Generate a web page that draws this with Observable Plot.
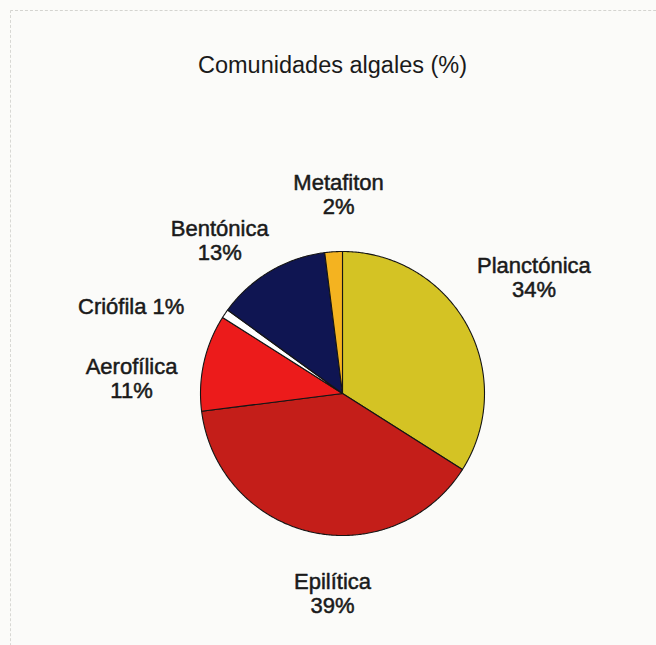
<!DOCTYPE html>
<html>
<head>
<meta charset="utf-8">
<script src="https://cdn.jsdelivr.net/npm/d3@7"></script>
<script src="https://cdn.jsdelivr.net/npm/@observablehq/plot@0.6"></script>
<style>
  html, body { margin: 0; padding: 0; background: #fbfbf9; }
  #wrap { position: relative; width: 656px; height: 645px; background: #fbfbf9; overflow: hidden;
          font-family: "Liberation Sans", Arial, Helvetica, sans-serif; }
  #frame { position: absolute; left: 10px; top: 10px; width: 700px; height: 700px;
           border-top: 1px dashed #d4d4d0; border-left: 1px dashed #d8d8d4; }
  #title { position: relative; height: 100px; box-sizing: border-box; padding-top: 52px; padding-left: 9px;
           text-align: center; font-size: 23.5px; line-height: 26px; color: #1a1a1a; }
  #chart svg { display: block; }
</style>
</head>
<body>
<div id="wrap">
  <div id="frame"></div>
  <div id="title">Comunidades algales (%)</div>
  <div id="chart"></div>
</div>
<script>
// ---- data ----
const categories = ["Planctónica", "Epilítica", "Aerofílica", "Criófila", "Bentónica", "Metafiton"];
const percents   = [34, 39, 11, 1, 13, 2];
const colors     = ["#d4c324", "#c41e19", "#ec1b1b", "#ffffff", "#0f1552", "#f4b320"];

// label layout: pixel nudges from the polar anchor (layout only)
const labelNudge = [[11, -17], [35, -1], [-10, 30], [-41, 28], [-18, 24], [9, 6]];

// ---- geometry ----
const W = 656, H = 545, R = 142, CX = 342, CY = 293;
const pie = d3.pie().sort(null).value(d => d.value)(categories.map((name, i) => ({name, value: percents[i]})));

const slicePts = [];
pie.forEach(s => {
  const name = s.data.name;
  slicePts.push({name, x: 0, y: 0});
  const steps = Math.max(2, Math.ceil((s.endAngle - s.startAngle) / (Math.PI / 360)));
  for (let k = 0; k <= steps; k++) {
    const a = s.startAngle + (s.endAngle - s.startAngle) * k / steps;
    slicePts.push({name, x: Math.sin(a), y: Math.cos(a)});
  }
});

const labelR = 1.45;
const labels = pie.map((s, i) => {
  const a = (s.startAngle + s.endAngle) / 2;
  const name = s.data.name;
  const txt = name === "Criófila" ? `${name} ${s.data.value}%` : `${name}\n${s.data.value}%`;
  return {
    text: txt,
    x: labelR * Math.sin(a) + labelNudge[i][0] / R,
    y: labelR * Math.cos(a) - labelNudge[i][1] / R
  };
});

const chart = Plot.plot({
  width: W, height: H,
  margin: 0,
  x: {axis: null, domain: [-CX / R, (W - CX) / R]},
  y: {axis: null, domain: [-(H - CY) / R, CY / R]},
  color: {domain: categories, range: colors},
  style: {background: "transparent", fontFamily: '"Liberation Sans", Arial, sans-serif'},
  marks: [
    Plot.line(slicePts, {x: "x", y: "y", z: "name", fill: "name", stroke: "#151515",
      strokeWidth: 1.1, curve: "linear-closed", strokeLinejoin: "round"}),
    Plot.text(labels, {x: "x", y: "y", text: "text", fontSize: 22, lineHeight: 1.1,
      textAnchor: "middle", fill: "#1a1a1a", stroke: "#1a1a1a", strokeWidth: 0.5})
  ]
});
document.getElementById("chart").appendChild(chart);
</script>
</body>
</html>
